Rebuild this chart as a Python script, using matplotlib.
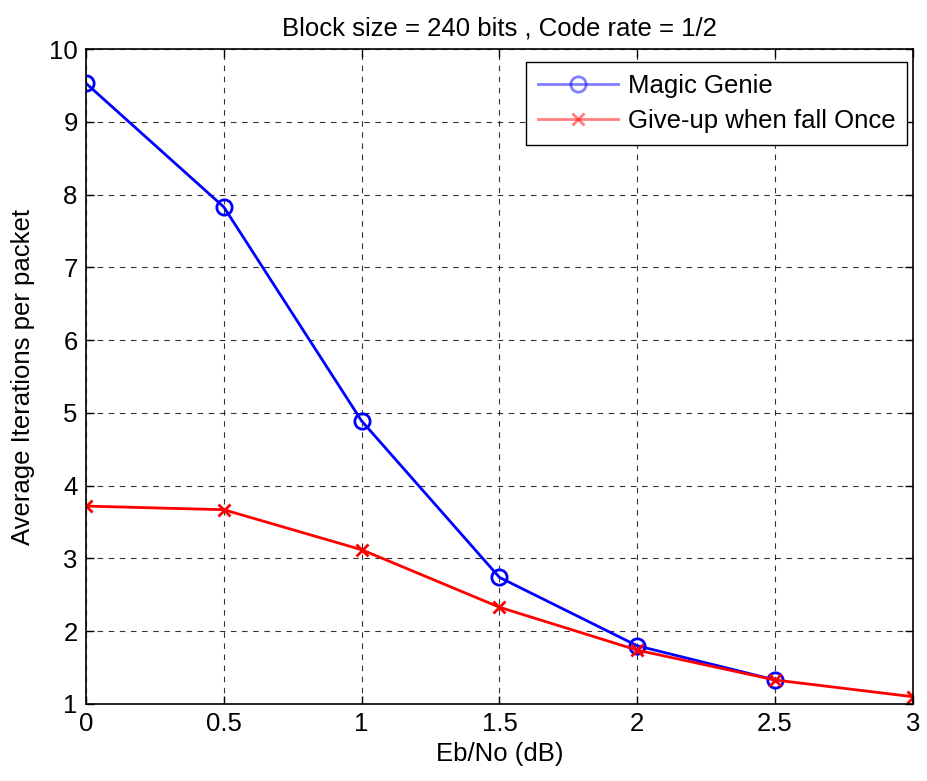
import matplotlib.pyplot as plt

plt.rcParams['font.family'] = ['Liberation Sans', 'DejaVu Sans']

ebno_genie = [0, 0.5, 1.0, 1.5, 2.0, 2.5]
iters_genie = [9.53, 7.83, 4.89, 2.74, 1.80, 1.33]

ebno_giveup = [0, 0.5, 1.0, 1.5, 2.0, 2.5, 3.0]
iters_giveup = [3.72, 3.67, 3.12, 2.33, 1.74, 1.33, 1.10]

xticks = [0, 0.5, 1, 1.5, 2, 2.5, 3]
xticklabels = ['0', '0.5', '1', '1.5', '2', '2.5', '3']
yticks = list(range(1, 11))

fs = 18.5

fig = plt.figure(figsize=(9.28, 7.81), dpi=100)
ax = fig.add_axes([0.0927, 0.0986, 0.891, 0.8385])

ax.plot(ebno_genie, iters_genie, color='#0000ff', lw=2, marker='o', ms=11,
        mfc='none', mew=2, label='Magic Genie')
ax.plot(ebno_giveup, iters_giveup, color='#ff0000', lw=2, marker='x', ms=9,
        mew=2, label='Give-up when fall Once')

ax.set_xlim(0, 3)
ax.set_ylim(1, 10)
ax.set_xticks(xticks)
ax.set_xticklabels(xticklabels)
ax.set_yticks(yticks)
ax.tick_params(labelsize=fs, direction='in', length=6, width=1, top=True, right=True, pad=6)
ax.grid(True, color='black', linestyle=(0, (5, 5)), linewidth=0.8, alpha=0.8)
for s in ax.spines.values():
    s.set_linewidth(1.2)

ax.set_xlabel('Eb/No (dB)', fontsize=fs, labelpad=4)
ax.set_ylabel('Average Iterations per packet', fontsize=fs, labelpad=10)
ax.set_title('Block size = 240 bits , Code rate = 1/2', fontsize=fs, pad=10)

leg = ax.legend(loc='upper right', bbox_to_anchor=(0.993, 0.98), fontsize=fs,
                fancybox=False, edgecolor='black', framealpha=1, borderaxespad=0,
                handlelength=3.1, borderpad=0.45, labelspacing=0.45,
                handletextpad=0.4)
leg.get_frame().set_linewidth(1)
for h in leg.legend_handles:
    h.set_alpha(0.5)

fig.savefig('out.png', dpi=100)
